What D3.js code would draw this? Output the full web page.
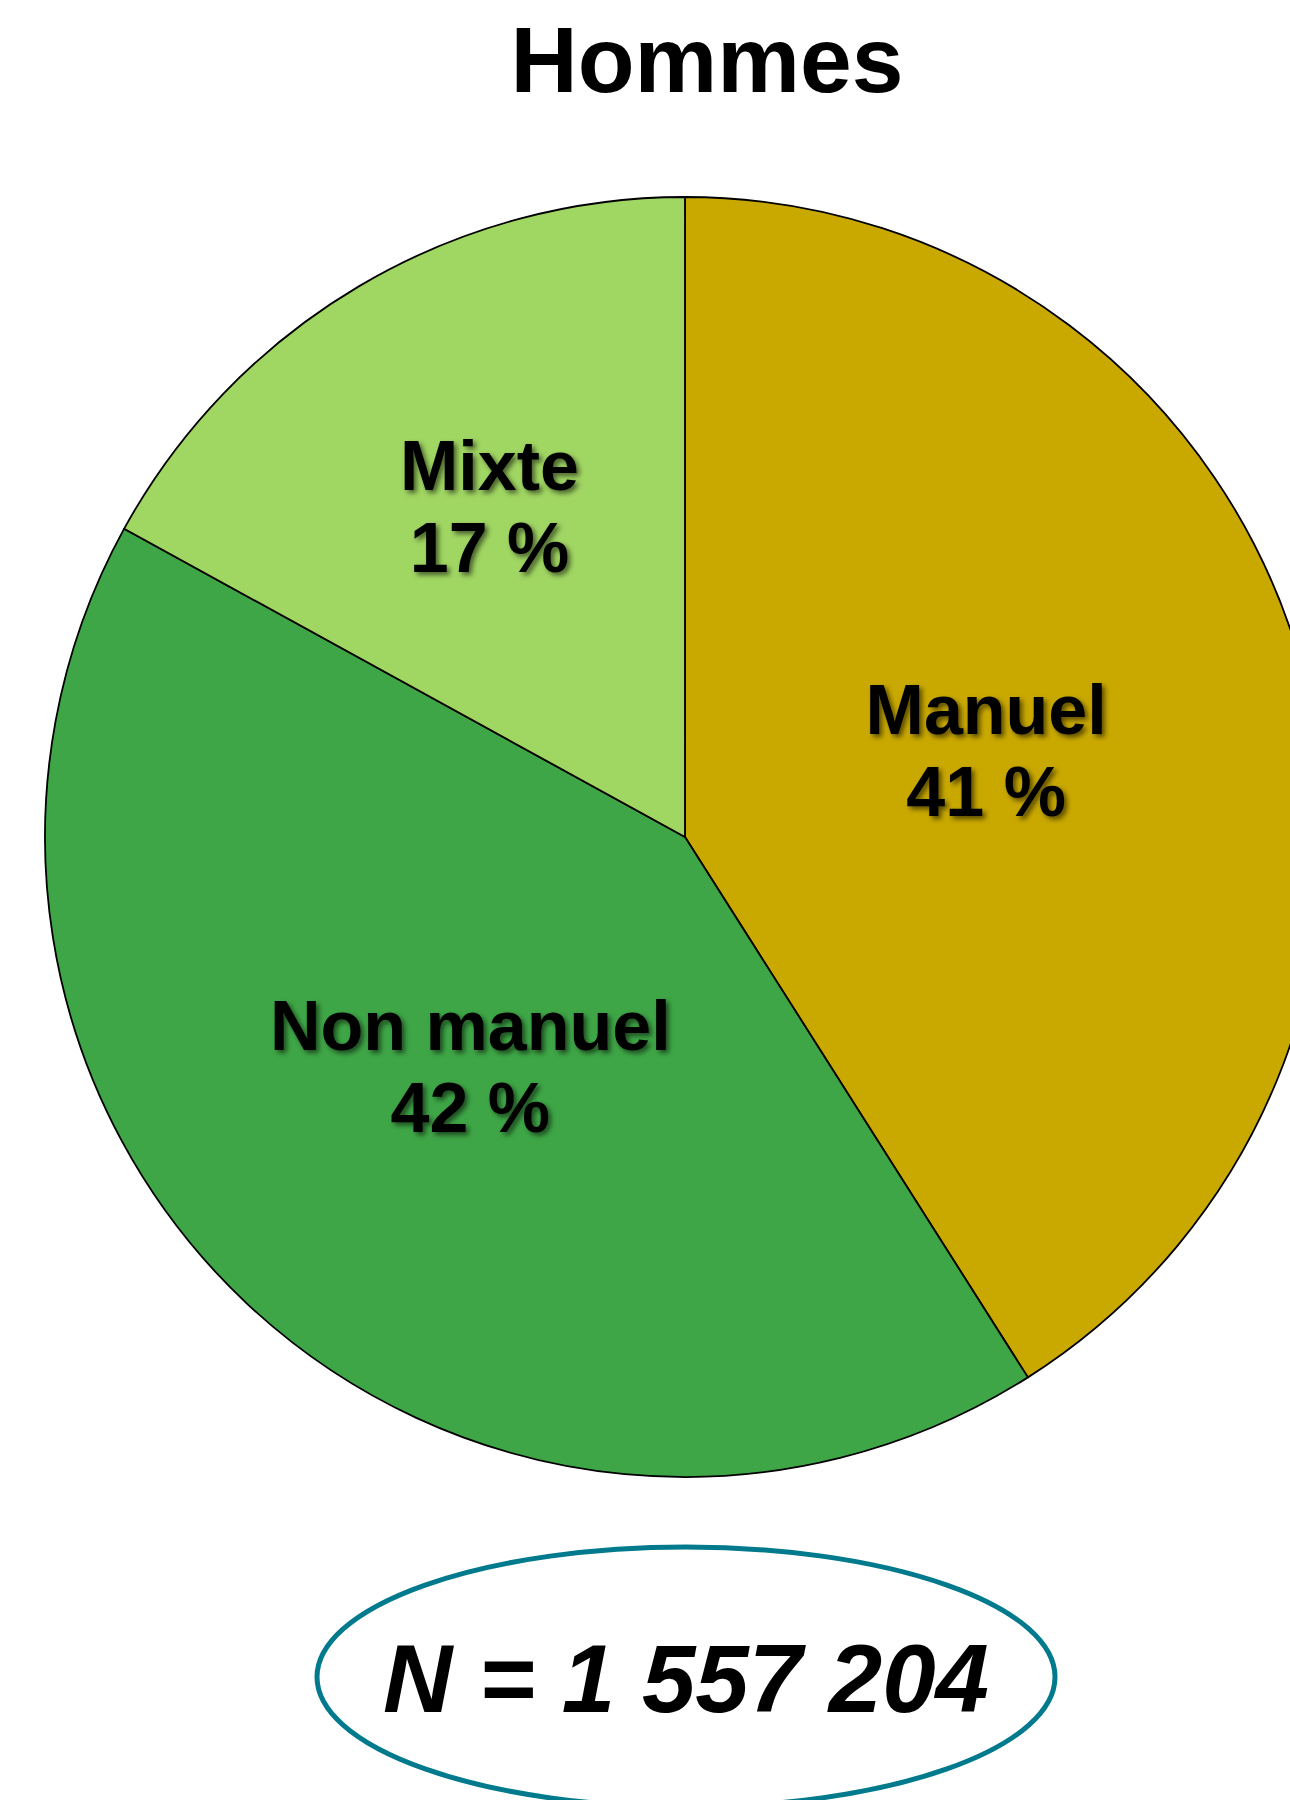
<!DOCTYPE html>
<html>
<head>
<meta charset="utf-8">
<script src="https://cdn.jsdelivr.net/npm/d3@7"></script>
<style>
  body { margin: 0; background: #fff; }
  svg { display: block; font-family: Arial, "Liberation Sans", sans-serif; }
</style>
</head>
<body>
<svg id="chart"></svg>
<script>
// data
var categories = ['Manuel', 'Non manuel', 'Mixte'];
var values = [41, 42, 17];
var colors = ['#c9a800', '#3ea646', '#a0d662'];
var title = 'Hommes';
var total = 'N = 1 557 204';

var width = 1290, height = 1800;
var cx = 685, cy = 837, radius = 640;
// how far out each label sits, as a share of the radius
var labelPos = [0.49, 0.49, 0.6];

var svg = d3.select('#chart')
  .attr('width', width)
  .attr('height', height);

var defs = svg.append('defs');
var shadow = defs.append('filter')
  .attr('id', 'shadow')
  .attr('x', '-20%').attr('y', '-20%')
  .attr('width', '140%').attr('height', '140%');
shadow.append('feDropShadow')
  .attr('dx', 3).attr('dy', 3)
  .attr('stdDeviation', 2.5)
  .attr('flood-color', '#000')
  .attr('flood-opacity', 0.55);

svg.append('text')
  .attr('x', 707)
  .attr('y', 92)
  .attr('text-anchor', 'middle')
  .attr('font-size', 93)
  .attr('font-weight', 'bold')
  .attr('fill', '#000')
  .text(title);

var pie = d3.pie().sort(null).value(function(d) { return d; });
var arcs = pie(values);

var arc = d3.arc().innerRadius(0).outerRadius(radius);

var g = svg.append('g')
  .attr('transform', 'translate(' + cx + ',' + cy + ')');

g.selectAll('path.slice')
  .data(arcs)
  .enter().append('path')
  .attr('class', 'slice')
  .attr('d', arc)
  .attr('fill', function(d, i) { return colors[i]; })
  .attr('stroke', '#000')
  .attr('stroke-width', 1.8)
  .attr('stroke-linejoin', 'round');

var labels = g.selectAll('text.lbl')
  .data(arcs)
  .enter().append('text')
  .attr('class', 'lbl')
  .attr('text-anchor', 'middle')
  .attr('font-size', 70)
  .attr('font-weight', 'bold')
  .attr('fill', '#000')
  .attr('filter', 'url(#shadow)')
  .attr('transform', function(d, i) {
    var r = radius * labelPos[i];
    var c = d3.arc().innerRadius(r).outerRadius(r).centroid(d);
    return 'translate(' + c[0] + ',' + c[1] + ')';
  });

labels.append('tspan')
  .attr('x', 0)
  .attr('y', -16)
  .text(function(d, i) { return categories[i]; });
labels.append('tspan')
  .attr('x', 0)
  .attr('y', 66)
  .text(function(d) { return d.value + ' %'; });

svg.append('ellipse')
  .attr('cx', 686)
  .attr('cy', 1677)
  .attr('rx', 369)
  .attr('ry', 130)
  .attr('fill', '#fff')
  .attr('stroke', '#007a8c')
  .attr('stroke-width', 5);

svg.append('text')
  .attr('x', 686)
  .attr('y', 1712)
  .attr('text-anchor', 'middle')
  .attr('font-size', 96)
  .attr('font-weight', 'bold')
  .attr('font-style', 'italic')
  .attr('fill', '#000')
  .text(total);
</script>
</body>
</html>
